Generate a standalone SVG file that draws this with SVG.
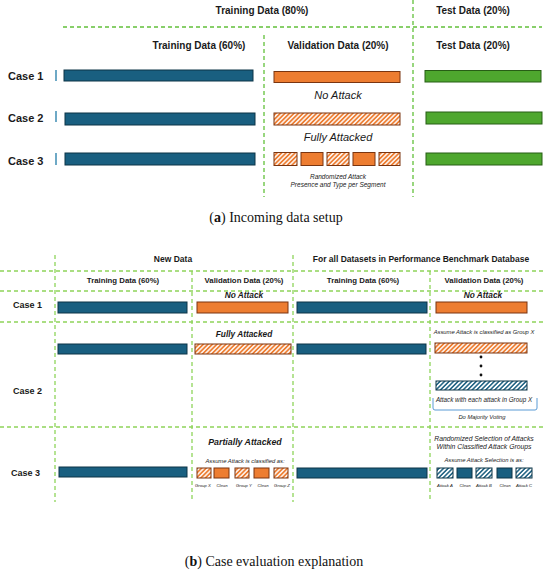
<svg xmlns="http://www.w3.org/2000/svg" width="550" height="576" viewBox="0 0 550 576">
<defs>
<pattern id="hatchO" patternUnits="userSpaceOnUse" width="3.2" height="3.2" patternTransform="rotate(45)">
<rect width="3.2" height="3.2" fill="#ed7d31"/>
<line x1="1.6" y1="0" x2="1.6" y2="3.2" stroke="#ffffff" stroke-width="1.4"/>
</pattern>
<pattern id="hatchB" patternUnits="userSpaceOnUse" width="3.2" height="3.2" patternTransform="rotate(45)">
<rect width="3.2" height="3.2" fill="#ffffff"/>
<line x1="1.6" y1="0" x2="1.6" y2="3.2" stroke="#1a5f80" stroke-width="1.5"/>
</pattern>
</defs>
<style>
.t{font-family:"Liberation Sans",Arial,sans-serif;fill:#1a1a1a}
.b{font-weight:bold}
.i{font-style:italic}
.m{text-anchor:middle}
.cap{font-family:"Liberation Serif","Times New Roman",serif;font-size:14px;fill:#111;text-anchor:middle}
.blue{fill:#195f80;stroke:#0d3547;stroke-width:1}
.org{fill:#ed7d31;stroke:#7a3510;stroke-width:1}
.orgH{fill:url(#hatchO);stroke:#7a3510;stroke-width:1}
.bluH{fill:url(#hatchB);stroke:#0d3547;stroke-width:1}
.grn{fill:#4ea72e;stroke:#275e15;stroke-width:1}
.da{stroke:#62c03a;stroke-width:1.3;stroke-dasharray:4 3;fill:none}
.db{stroke:#8ed45a;stroke-width:1.3;stroke-dasharray:4 3;fill:none}
.tick{stroke:#3e8db3;stroke-width:1.5}
</style>

<g id="connectors">
<line class="da" x1="63" y1="27" x2="542" y2="27"/>
<line class="da" x1="413" y1="0" x2="413" y2="197"/>
<line class="da" x1="264" y1="35" x2="264" y2="197"/>
<line class="db" x1="0" y1="271" x2="545" y2="271"/>
<line class="db" x1="0" y1="291" x2="545" y2="291"/>
<line class="db" x1="0" y1="322" x2="545" y2="322"/>
<line class="db" x1="0" y1="427" x2="545" y2="427"/>
<line class="db" x1="55" y1="255" x2="55" y2="502"/>
<line class="db" x1="293" y1="255" x2="293" y2="502"/>
<line class="db" x1="192" y1="271" x2="192" y2="502"/>
<line class="db" x1="430" y1="271" x2="430" y2="502"/>
</g>

<g id="a-headers">
<text class="t b m" x="262" y="14" font-size="10">Training Data (80%)</text>
<text class="t b m" x="473" y="14" font-size="10">Test Data (20%)</text>
<text class="t b m" x="199" y="49" font-size="10">Training Data (60%)</text>
<text class="t b m" x="338" y="49" font-size="10">Validation Data (20%)</text>
<text class="t b m" x="473" y="49" font-size="10">Test Data (20%)</text>
</g>

<g id="a-case1">
<text class="t b" x="8" y="80" font-size="11">Case 1</text>
<line class="tick" x1="56" y1="70" x2="56" y2="81"/>
<rect class="blue" x="64" y="70" width="189" height="11"/>
<rect class="org" x="274" y="71.5" width="126" height="11"/>
<rect class="grn" x="425" y="70.5" width="116" height="11.5"/>
<text class="t i m" x="338" y="99" font-size="11">No Attack</text>
</g>

<g id="a-case2">
<text class="t b" x="8" y="122" font-size="11">Case 2</text>
<line class="tick" x1="56" y1="111" x2="56" y2="122"/>
<rect class="blue" x="65" y="113" width="190" height="12"/>
<rect class="orgH" x="274" y="113" width="126" height="12"/>
<rect class="grn" x="426" y="112" width="116" height="12"/>
<text class="t i m" x="338" y="141" font-size="11">Fully Attacked</text>
</g>

<g id="a-case3">
<text class="t b" x="8" y="165" font-size="11">Case 3</text>
<line class="tick" x1="56" y1="153" x2="56" y2="165"/>
<rect class="blue" x="65" y="153" width="190" height="12"/>
<rect class="orgH" x="274" y="152.5" width="23" height="13"/>
<rect class="org" x="301" y="152.5" width="22" height="13"/>
<rect class="orgH" x="327" y="152.5" width="22" height="13"/>
<rect class="org" x="353" y="152.5" width="22" height="13"/>
<rect class="orgH" x="379" y="152.5" width="21" height="13"/>
<rect class="grn" x="426" y="153" width="116" height="12"/>
<text class="t i m" x="338" y="179" font-size="6.5">Randomized Attack</text>
<text class="t i m" x="338" y="187" font-size="6.5">Presence and Type per Segment</text>
</g>

<text class="cap" x="276" y="222">(<tspan font-weight="bold">a</tspan>) Incoming data setup</text>

<g id="b-headers">
<text class="t b m" x="173" y="262" font-size="8.5">New Data</text>
<text class="t b m" x="421" y="262" font-size="8.5">For all Datasets in  Performance  Benchmark Database</text>
<text class="t b m" x="123" y="283" font-size="7.8">Training Data (60%)</text>
<text class="t b m" x="244" y="283" font-size="7.8">Validation Data (20%)</text>
<text class="t b m" x="363" y="283" font-size="7.8">Training Data (60%)</text>
<text class="t b m" x="484" y="283" font-size="7.8">Validation Data (20%)</text>
</g>

<g id="b-case1">
<text class="t b" x="13" y="308" font-size="9">Case 1</text>
<rect class="blue" x="58" y="302" width="129" height="11"/>
<rect class="org" x="197" y="302" width="91" height="11"/>
<rect class="blue" x="297" y="302" width="130" height="11"/>
<rect class="org" x="436" y="302" width="91" height="11"/>
<text class="t b i m" x="244" y="298" font-size="8.3">No Attack</text>
<text class="t b i m" x="483" y="298" font-size="8.3">No Attack</text>
</g>

<g id="b-case2">
<text class="t b" x="13" y="394" font-size="9">Case 2</text>
<text class="t b i m" x="244" y="337" font-size="8.3">Fully Attacked</text>
<rect class="blue" x="58" y="344" width="129" height="10"/>
<rect class="orgH" x="195" y="344" width="96" height="10"/>
<rect class="blue" x="297" y="344" width="129" height="10"/>
<text class="t i m" x="484" y="334" font-size="5.8">Assume Attack is classified as Group X</text>
<rect class="orgH" x="435" y="343" width="92" height="10"/>
<circle cx="481" cy="357" r="1.4" fill="#111"/>
<circle cx="481" cy="366" r="1.4" fill="#111"/>
<circle cx="481" cy="375" r="1.4" fill="#111"/>
<rect class="bluH" x="436" y="381" width="91" height="9"/>
<text class="t i m" x="484" y="402" font-size="6.3">Attack with each attack in Group X</text>
<path d="M433,398 V408 Q433,410 435,410 H535 Q537,410 537,408 V398" fill="none" stroke="#5b9bd5" stroke-width="1"/>
<text class="t i m" x="482" y="419" font-size="5.8">Do Majority Voting</text>
</g>

<g id="b-case3">
<text class="t b" x="11" y="476" font-size="9">Case 3</text>
<rect class="blue" x="59" y="467" width="128" height="10"/>
<text class="t b i m" x="245" y="445" font-size="8.8">Partially Attacked</text>
<text class="t i m" x="245" y="463" font-size="5.8">Assume Attack is classified as:</text>
<rect class="orgH" x="197" y="468" width="14" height="10"/>
<rect class="org" x="214" y="468" width="15" height="10"/>
<rect class="orgH" x="235" y="468" width="14" height="10"/>
<rect class="org" x="254" y="468" width="15" height="10"/>
<rect class="orgH" x="274" y="468" width="14" height="10"/>
<text class="t i m" x="203" y="487" font-size="4.3">Group X</text>
<text class="t i m" x="222" y="487" font-size="4.3">Clean</text>
<text class="t i m" x="244" y="487" font-size="4.3">Group Y</text>
<text class="t i m" x="263" y="487" font-size="4.3">Clean</text>
<text class="t i m" x="282" y="487" font-size="4.3">Group Z</text>
<rect class="blue" x="297" y="468" width="130" height="10"/>
<text class="t i m" x="484" y="441" font-size="6.8">Randomized Selection of Attacks</text>
<text class="t i m" x="484" y="449" font-size="6.8">Within Classified Attack Groups</text>
<text class="t i m" x="484" y="462" font-size="5.8">Assume Attack Selection is as:</text>
<rect class="bluH" x="437" y="468" width="16" height="10"/>
<rect class="blue" x="457" y="468" width="15" height="10"/>
<rect class="bluH" x="476" y="468" width="16" height="10"/>
<rect class="blue" x="497" y="468" width="15" height="10"/>
<rect class="bluH" x="516" y="468" width="16" height="10"/>
<text class="t i m" x="445" y="487" font-size="4.3">Attack A</text>
<text class="t i m" x="465" y="487" font-size="4.3">Clean</text>
<text class="t i m" x="484" y="487" font-size="4.3">Attack B</text>
<text class="t i m" x="505" y="487" font-size="4.3">Clean</text>
<text class="t i m" x="524" y="487" font-size="4.3">Attack C</text>
</g>

<text class="cap" x="274" y="566">(<tspan font-weight="bold">b</tspan>) Case evaluation explanation</text>
</svg>
